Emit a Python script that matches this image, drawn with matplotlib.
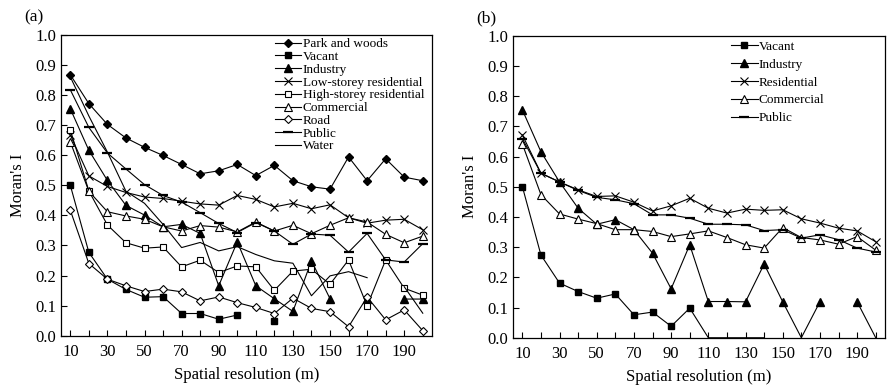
import numpy as np
import matplotlib.pyplot as plt

plt.rcParams['font.family'] = ['Liberation Serif', 'DejaVu Serif']

nan = np.nan
resolution = list(range(10, 201, 10))

# (a) detailed land use classes
park_woods = [0.867, 0.771, 0.702, 0.657, 0.626, 0.599, 0.569, 0.538, 0.548, 0.569,
              0.532, 0.566, 0.515, 0.495, 0.487, 0.594, 0.515, 0.588, 0.527, 0.515]
vacant_a = [0.50, 0.277, 0.188, 0.154, 0.128, 0.130, 0.074, 0.074, 0.055, 0.069,
            nan, 0.048, nan, nan, nan, nan, nan, nan, nan, nan]
industry_a = [0.754, 0.616, 0.516, 0.433, 0.401, 0.362, 0.370, 0.340, 0.166, 0.312,
              0.166, 0.123, 0.081, 0.249, 0.123, nan, 0.123, nan, 0.122, 0.122]
low_storey = [0.667, 0.531, 0.496, 0.476, 0.461, 0.456, 0.447, 0.438, 0.434, 0.466,
              0.453, 0.428, 0.440, 0.422, 0.435, 0.392, 0.374, 0.384, 0.387, 0.352]
high_storey = [0.684, 0.481, 0.368, 0.309, 0.291, 0.295, 0.229, 0.251, 0.210, 0.232,
               0.229, 0.151, 0.215, 0.221, 0.171, 0.252, 0.099, 0.252, 0.158, 0.135]
commercial_a = [0.644, 0.480, 0.412, 0.398, 0.387, 0.362, 0.348, 0.366, 0.361, 0.345,
                0.378, 0.348, 0.367, 0.339, 0.367, 0.392, 0.378, 0.337, 0.309, 0.331]
road = [0.417, 0.240, 0.188, 0.166, 0.147, 0.155, 0.146, 0.116, 0.129, 0.110,
        0.094, 0.074, 0.125, 0.091, 0.080, 0.030, 0.129, 0.053, 0.086, 0.017]
public_a = [0.817, 0.692, 0.607, 0.554, 0.502, 0.466, 0.444, 0.409, 0.373, 0.343,
            0.376, 0.348, 0.304, 0.338, 0.334, 0.278, 0.340, 0.252, 0.245, 0.306]
water = [0.860, 0.730, 0.610, 0.480, 0.440, 0.370, 0.293, 0.310, 0.282, 0.296,
         0.270, 0.249, 0.241, 0.133, 0.199, 0.213, 0.193, nan, 0.163, 0.075]

# (b) merged classes
vacant_b = [0.501, 0.274, 0.181, 0.153, 0.131, 0.145, 0.076, 0.085, 0.038, 0.098,
            0.0, 0.0, 0.0, 0.0, nan, nan, nan, nan, nan, nan]
industry_b = [0.755, 0.616, 0.516, 0.429, 0.376, 0.391, 0.358, 0.280, 0.162, 0.308,
              0.120, 0.120, 0.119, 0.244, 0.119, 0.0, 0.119, nan, 0.119, 0.0]
residential_b = [0.672, 0.545, 0.516, 0.490, 0.468, 0.470, 0.449, 0.420, 0.437, 0.462,
                 0.429, 0.413, 0.426, 0.422, 0.424, 0.394, 0.380, 0.363, 0.354, 0.318]
commercial_b = [0.642, 0.474, 0.410, 0.393, 0.378, 0.358, 0.358, 0.352, 0.335, 0.344,
                0.354, 0.332, 0.308, 0.297, 0.365, 0.332, 0.324, 0.310, 0.335, 0.290]
public_b = [0.660, 0.545, 0.516, 0.488, 0.465, 0.457, 0.444, 0.407, 0.407, 0.396,
            0.376, 0.376, 0.374, 0.355, 0.358, 0.330, 0.341, 0.325, 0.297, 0.284]

styles = {
    'Park and woods': dict(marker='D', mfc='k', ms=4.2),
    'Vacant': dict(marker='s', mfc='k', ms=4.8),
    'Industry': dict(marker='^', mfc='k', ms=5.5),
    'Low-storey residential': dict(marker='x', mfc='none', ms=6, mew=0.8),
    'Residential': dict(marker='x', mfc='none', ms=6, mew=0.8),
    'High-storey residential': dict(marker='s', mfc='white', ms=5, mew=0.8),
    'Commercial': dict(marker='^', mfc='white', ms=5.5, mew=0.8),
    'Road': dict(marker='D', mfc='white', ms=4.2, mew=0.8),
    'Public': dict(marker='_', ms=7, mew=1.6),
    'Water': dict(marker=None),
}

series_a = [('Park and woods', park_woods), ('Vacant', vacant_a), ('Industry', industry_a),
            ('Low-storey residential', low_storey), ('High-storey residential', high_storey),
            ('Commercial', commercial_a), ('Road', road), ('Public', public_a), ('Water', water)]
series_b = [('Vacant', vacant_b), ('Industry', industry_b), ('Residential', residential_b),
            ('Commercial', commercial_b), ('Public', public_b)]

fig = plt.figure(figsize=(8.91, 3.9), dpi=100)
ax_a = fig.add_axes([0.0685, 0.139, 0.4164, 0.772])
ax_b = fig.add_axes([0.5758, 0.134, 0.4175, 0.774])


def draw(ax, series, tag, leg_kw):
    for name, vals in series:
        vals = np.array(vals, dtype=float)
        # points sitting on the x axis are drawn as line only
        shown = [i for i, v in enumerate(vals) if not np.isnan(v) and v > 0]
        ax.plot(resolution, vals, color='k', lw=0.8, mec='k', label=name,
                markevery=shown, **styles[name])
    ax.set_xlim(5, 205)
    ax.set_ylim(0, 1.0)
    ax.set_xticks(range(10, 191, 20))
    ax.set_xticks(range(20, 201, 20), minor=True)
    ax.set_yticks(np.arange(0, 1.01, 0.1))
    ax.set_yticklabels([f'{v:.1f}' for v in np.arange(0, 1.01, 0.1)])
    ax.tick_params(direction='in', labelsize=12, length=4, width=0.8)
    ax.tick_params(axis='x', pad=6)
    ax.tick_params(which='minor', direction='in', length=4, width=0.8)
    ax.set_xlabel('Spatial resolution (m)', fontsize=12, labelpad=5)
    ax.set_ylabel("Moran's I", fontsize=12, labelpad=7)
    for s in ax.spines.values():
        s.set_linewidth(0.9)
    ax.legend(frameon=False, handletextpad=0.1, borderaxespad=0.2, **leg_kw)
    ax.text(-0.1, 1.03, tag, transform=ax.transAxes, fontsize=12.5, va='bottom')


draw(ax_a, series_a, '(a)', dict(loc='upper right', labelspacing=0.04, handlelength=2.0,
                                 fontsize=9.5, bbox_to_anchor=(1.0, 1.015)))
draw(ax_b, series_b, '(b)', dict(loc='upper left', labelspacing=0.42, handlelength=2.0,
                                 fontsize=9.5, bbox_to_anchor=(0.565, 1.01)))

fig.savefig('out.png', dpi=100)
